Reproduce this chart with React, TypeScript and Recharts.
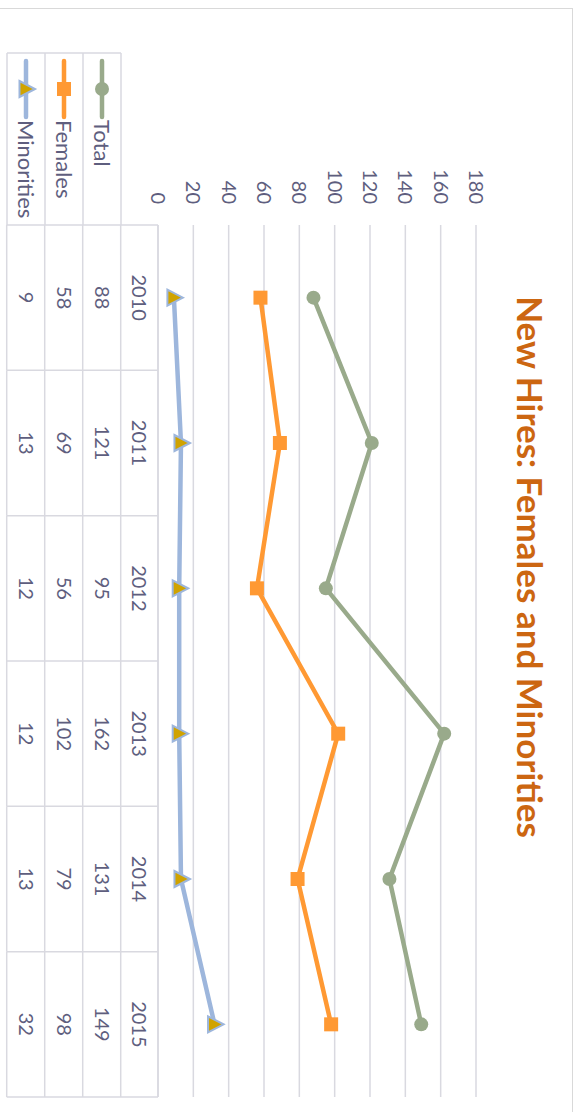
import React from "react";
import { LineChart, Line, XAxis, YAxis, CartesianGrid, Legend } from "recharts";

const years = ["2010", "2011", "2012", "2013", "2014", "2015"];
const total = [88, 121, 95, 162, 131, 149];
const females = [58, 69, 56, 102, 79, 98];
const minorities = [9, 13, 12, 12, 13, 32];
const valueTicks = [0, 20, 40, 60, 80, 100, 120, 140, 160, 180];

// chart is drawn unrotated, then turned 90deg clockwise
const W = 1118;
const H = 575;
const PLOT_L = 217;
const PLOT_R = 1089;
const PLOT_T = 97;
const PLOT_B = 415;
const BAND = (PLOT_R - PLOT_L) / years.length;
const ROW_Y = [415, 452.3, 490.3, 528.3, 566.3];
const LEGEND_L = 45;
const Y_AXIS_W = 60;

const GRID = "#d9d9e0";
const TEXT = "#5e5e7e";
const FONT = "Lato, 'Open Sans', sans-serif";

type Marker = "circle" | "square" | "triangle";
const series: { key: string; name: string; color: string; fill: string; marker: Marker; values: number[] }[] = [
  { key: "total", name: "Total", color: "#99aa8b", fill: "#99aa8b", marker: "circle", values: total },
  { key: "females", name: "Females", color: "#ff9933", fill: "#ff9933", marker: "square", values: females },
  { key: "minorities", name: "Minorities", color: "#9db6dc", fill: "#d0a300", marker: "triangle", values: minorities },
];

const rows = years.map((year, i) => ({
  year,
  total: total[i],
  females: females[i],
  minorities: minorities[i],
}));

function MarkerShape({ cx, cy, marker, color, fill }: { cx: number; cy: number; marker: Marker; color: string; fill: string }) {
  if (cx == null || cy == null) return null;
  if (marker === "circle") return <circle cx={cx} cy={cy} r={7} fill={fill} />;
  if (marker === "square") return <rect x={cx - 7} y={cy - 7} width={14} height={14} fill={fill} />;
  return (
    <polygon
      points={`${cx},${cy - 9} ${cx + 8},${cy + 6.5} ${cx - 8},${cy + 6.5}`}
      fill={fill}
      stroke={color}
      strokeWidth={2}
      strokeLinejoin="miter"
    />
  );
}

const TableTick = (props: any) => {
  const { x, index } = props;
  const left = x - BAND / 2;
  const right = x + BAND / 2;
  const r = rows[index];
  const mid = (a: number, b: number) => (a + b) / 2;
  return (
    <g>
      <line x1={left} x2={left} y1={ROW_Y[0]} y2={ROW_Y[4]} stroke={GRID} strokeWidth={1.5} />
      {index === years.length - 1 && (
        <line x1={right} x2={right} y1={ROW_Y[0]} y2={ROW_Y[4]} stroke={GRID} strokeWidth={1.5} />
      )}
      {ROW_Y.slice(1).map((yy) => (
        <line key={yy} x1={left} x2={right} y1={yy} y2={yy} stroke={GRID} strokeWidth={1.5} />
      ))}
      <text x={x} y={mid(ROW_Y[0], ROW_Y[1])} dy="0.36em" textAnchor="middle" fill={TEXT} fontSize={20} fontFamily={FONT}>
        {r.year}
      </text>
      {series.map((s, k) => (
        <text
          key={s.key}
          x={x}
          y={mid(ROW_Y[k + 1], ROW_Y[k + 2])}
          dy="0.36em"
          textAnchor="middle"
          fill={TEXT}
          fontSize={20}
          fontFamily={FONT}
        >
          {s.values[index]}
        </text>
      ))}
    </g>
  );
};

const LegendTable = () => {
  const w = PLOT_L - LEGEND_L;
  const h = ROW_Y[4] - ROW_Y[1];
  return (
    <svg width={w} height={h} style={{ overflow: "visible", display: "block" }}>
      <line x1={0} x2={0} y1={0} y2={h} stroke={GRID} strokeWidth={1.5} />
      <line x1={0} x2={w} y1={0} y2={0} stroke={GRID} strokeWidth={1.5} />
      {series.map((s, k) => {
        const top = ROW_Y[k + 1] - ROW_Y[1];
        const bottom = ROW_Y[k + 2] - ROW_Y[1];
        const cy = (top + bottom) / 2;
        return (
          <g key={s.key}>
            <line x1={0} x2={w} y1={bottom} y2={bottom} stroke={GRID} strokeWidth={1.5} />
            <line x1={8} x2={64} y1={cy} y2={cy} stroke={s.color} strokeWidth={4.5} strokeLinecap="round" />
            <MarkerShape cx={36} cy={cy} marker={s.marker} color={s.color} fill={s.fill} />
            <text x={67} y={cy} dy="0.36em" fill={TEXT} fontSize={22} fontFamily={FONT}>
              {s.name}
            </text>
          </g>
        );
      })}
    </svg>
  );
};

export default function App() {
  return (
    <div style={{ position: "fixed", left: 0, top: 0, width: 579, height: 1112, overflow: "hidden", background: "#fff" }}>
      <div
        style={{
          position: "absolute",
          left: 0,
          top: 0,
          width: W,
          height: H,
          transformOrigin: "0 0",
          transform: "translate(573px, 8px) rotate(90deg)",
        }}
      >
        <div style={{ position: "absolute", left: 0, top: 0, width: W, height: H, boxSizing: "border-box", border: "1.5px solid #d9d9d9" }} />
        <svg width={W} height={H} style={{ position: "absolute", left: 0, top: 0 }}>
          <text x={559} y={56} textAnchor="middle" fill="#cc6611" fontSize={35} fontWeight="bold" fontFamily={FONT}>
            New Hires: Females and Minorities
          </text>
        </svg>
        <div style={{ position: "absolute", left: 0, top: 0 }}>
          <LineChart
            width={W}
            height={H}
            data={rows}
            margin={{ top: PLOT_T, right: W - PLOT_R, bottom: 10, left: PLOT_L - Y_AXIS_W }}
          >
            <CartesianGrid horizontal vertical={false} stroke={GRID} strokeWidth={1.5} />
            <XAxis
              dataKey="year"
              height={H - PLOT_B - 10}
              padding={{ left: BAND / 2, right: BAND / 2 }}
              interval={0}
              tickLine={false}
              axisLine={{ stroke: GRID, strokeWidth: 1.5 }}
              tick={<TableTick />}
            />
            <YAxis
              width={Y_AXIS_W}
              domain={[0, 180]}
              ticks={valueTicks}
              axisLine={false}
              tickLine={false}
              tickSize={0}
              tickMargin={21}
              tick={{ fill: TEXT, fontSize: 20, fontFamily: FONT }}
            />
            <Legend
              layout="vertical"
              align="center"
              verticalAlign="middle"
              wrapperStyle={{ left: LEGEND_L, top: ROW_Y[1], right: "auto", bottom: "auto", width: PLOT_L - LEGEND_L }}
              content={() => <LegendTable />}
            />
            {series.map((s) => (
              <Line
                key={s.key}
                type="linear"
                dataKey={s.key}
                name={s.name}
                stroke={s.color}
                strokeWidth={4.5}
                isAnimationActive={false}
                dot={(p: any) => <MarkerShape key={`${s.key}-${p.index}`} cx={p.cx} cy={p.cy} marker={s.marker} color={s.color} fill={s.fill} />}
                activeDot={false}
              />
            ))}
          </LineChart>
        </div>
      </div>
    </div>
  );
}
